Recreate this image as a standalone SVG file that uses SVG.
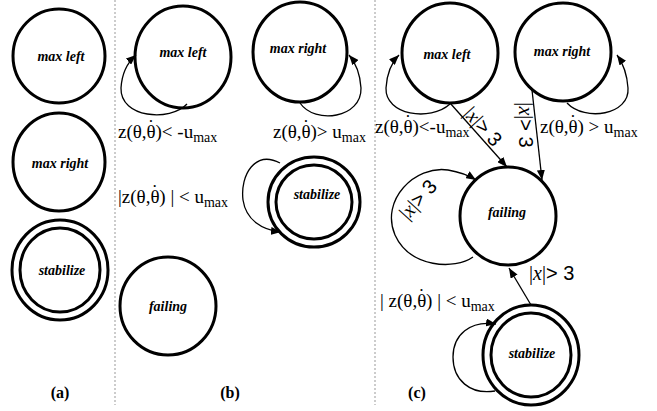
<svg xmlns="http://www.w3.org/2000/svg" width="657" height="411" viewBox="0 0 657 411">
<style>
.n{fill:none;stroke:#000;stroke-width:3}
.nl{font-family:"Liberation Serif",serif;font-weight:bold;font-style:italic;font-size:14px;text-anchor:middle}
.e{fill:none;stroke:#000;stroke-width:1.3}
.t{font-family:"Liberation Serif",serif;font-size:19px}
.xl{font-family:"Liberation Serif",serif;font-size:20px}
.s{font-size:14px}
.x{font-style:italic}
.sans{font-family:"Liberation Sans",sans-serif}
.p{font-family:"Liberation Serif",serif;font-weight:bold;font-size:16px;text-anchor:middle}
.d{stroke:#999;stroke-width:1;stroke-dasharray:2,2}
</style>
<defs>
<marker id="ah" markerUnits="userSpaceOnUse" markerWidth="10" markerHeight="8" refX="10" refY="4" orient="auto">
<path d="M0,0 L10,4 L0,8 z" fill="#000"/>
</marker>
</defs>
<rect width="657" height="411" fill="#fff"/>
<line class="d" x1="115" y1="0" x2="115" y2="405"/>
<line class="d" x1="375" y1="0" x2="375" y2="405"/>

<g id="a-maxleft"><ellipse class="n" cx="59" cy="56" rx="46" ry="47"/><text class="nl" x="61" y="61">max left</text></g>
<g id="a-maxright"><ellipse class="n" cx="59" cy="162" rx="46" ry="49"/><text class="nl" x="60" y="168">max right</text></g>
<g id="a-stabilize"><ellipse class="n" cx="60" cy="270" rx="48" ry="50"/><ellipse class="n" cx="60" cy="270" rx="40" ry="42"/><text class="nl" x="62" y="275">stabilize</text></g>

<g id="b-maxleft"><ellipse class="n" cx="183" cy="57" rx="48" ry="51"/><text class="nl" x="183" y="57">max left</text></g>
<g id="b-maxright"><ellipse class="n" cx="300" cy="52" rx="47" ry="50"/><text class="nl" x="298" y="53">max right</text></g>
<g id="b-stabilize"><ellipse class="n" cx="314" cy="202" rx="46" ry="45"/><ellipse class="n" cx="314" cy="202" rx="38" ry="37"/><text class="nl" x="317" y="199">stabilize</text></g>
<g id="b-failing"><ellipse class="n" cx="168" cy="306" rx="48" ry="49"/><text class="nl" x="168" y="311">failing</text></g>

<g id="c-maxleft"><ellipse class="n" cx="450" cy="53" rx="48" ry="50"/><text class="nl" x="447" y="59">max left</text></g>
<g id="c-maxright"><ellipse class="n" cx="563" cy="52" rx="48" ry="49"/><text class="nl" x="562" y="56">max right</text></g>
<g id="c-failing"><ellipse class="n" cx="508" cy="216" rx="48" ry="49"/><text class="nl" x="507" y="217">failing</text></g>
<g id="c-stabilize"><ellipse class="n" cx="531" cy="355" rx="48" ry="50"/><ellipse class="n" cx="531" cy="355" rx="40" ry="42"/><text class="nl" x="532" y="358">stabilize</text></g>

<g id="connectors">
<path class="e" marker-end="url(#ah)" d="M187,104 C170,122 120,118 121,88 C122,72 128,62 136,55"/>
<path class="e" marker-end="url(#ah)" d="M300,103 C315,125 362,118 361,88 C360,72 355,62 349,55"/>
<path class="e" marker-end="url(#ah)" d="M280,163 C255,150 240,175 243,200 C246,220 262,230 281,232"/>
<path class="e" marker-end="url(#ah)" d="M450,104 C430,122 385,115 386,88 C387,72 392,62 399,55"/>
<path class="e" marker-end="url(#ah)" d="M567,103 C585,122 630,115 628,88 C627,72 622,62 617,55"/>
<path class="e" marker-end="url(#ah)" d="M473,257 C455,270 410,268 395,235 C380,200 415,165 448,170 C460,172 468,175 476,180"/>
<path class="e" marker-end="url(#ah)" d="M495,391 C470,395 453,380 453,357 C453,335 470,320 496,324"/>
<path class="e" marker-end="url(#ah)" d="M450,103 L507,167"/>
<path class="e" marker-end="url(#ah)" d="M532,90 L542,180"/>
<path class="e" marker-end="url(#ah)" d="M531,305 L509,268"/>
</g>

<g id="labels">
<text class="t" x="118" y="138">z(θ,θ<tspan dx="-8" dy="-5">˙</tspan><tspan dx="1.5" dy="5">)&lt; -u</tspan><tspan class="s" dy="4">max</tspan></text>
<text class="t" x="273" y="138">z(θ,θ<tspan dx="-8" dy="-5">˙</tspan><tspan dx="1.5" dy="5">)&gt; u</tspan><tspan class="s" dy="4">max</tspan></text>
<text class="t" x="118" y="203">|z(θ,θ<tspan dx="-8" dy="-5">˙</tspan><tspan dx="1.5" dy="5">) | &lt; u</tspan><tspan class="s" dy="4">max</tspan></text>
<text class="t" x="375" y="133">z(θ,θ<tspan dx="-8" dy="-5">˙</tspan><tspan dx="1.5" dy="5">)&lt;-u</tspan><tspan class="s" dy="4">max</tspan></text>
<text class="t" x="540" y="133">z(θ,θ<tspan dx="-8" dy="-5">˙</tspan><tspan dx="1.5" dy="5">) &gt; u</tspan><tspan class="s" dy="4">max</tspan></text>
<text class="t" x="380" y="307">| z(θ,θ<tspan dx="-8" dy="-5">˙</tspan><tspan dx="1.5" dy="5">) | &lt; u</tspan><tspan class="s" dy="4">max</tspan></text>
<text class="xl" x="529" y="280">|<tspan class="x">x</tspan>|<tspan class="sans">&gt; 3</tspan></text>
<text class="xl" x="478" y="131" text-anchor="middle" transform="rotate(48 478 131)">|<tspan class="x">x</tspan>|<tspan class="sans">&gt; 3</tspan></text>
<text class="xl" x="519" y="125" text-anchor="middle" transform="rotate(90 519 125)">|<tspan class="x">x</tspan>|<tspan class="sans">&gt; 3</tspan></text>
<text class="xl" x="423" y="204" text-anchor="middle" transform="rotate(-48 423 204)">|<tspan class="x">x</tspan>|<tspan class="sans">&gt; 3</tspan></text>
<text class="p" x="60" y="398">(a)</text>
<text class="p" x="230" y="398">(b)</text>
<text class="p" x="417" y="398">(c)</text>
</g>
</svg>
